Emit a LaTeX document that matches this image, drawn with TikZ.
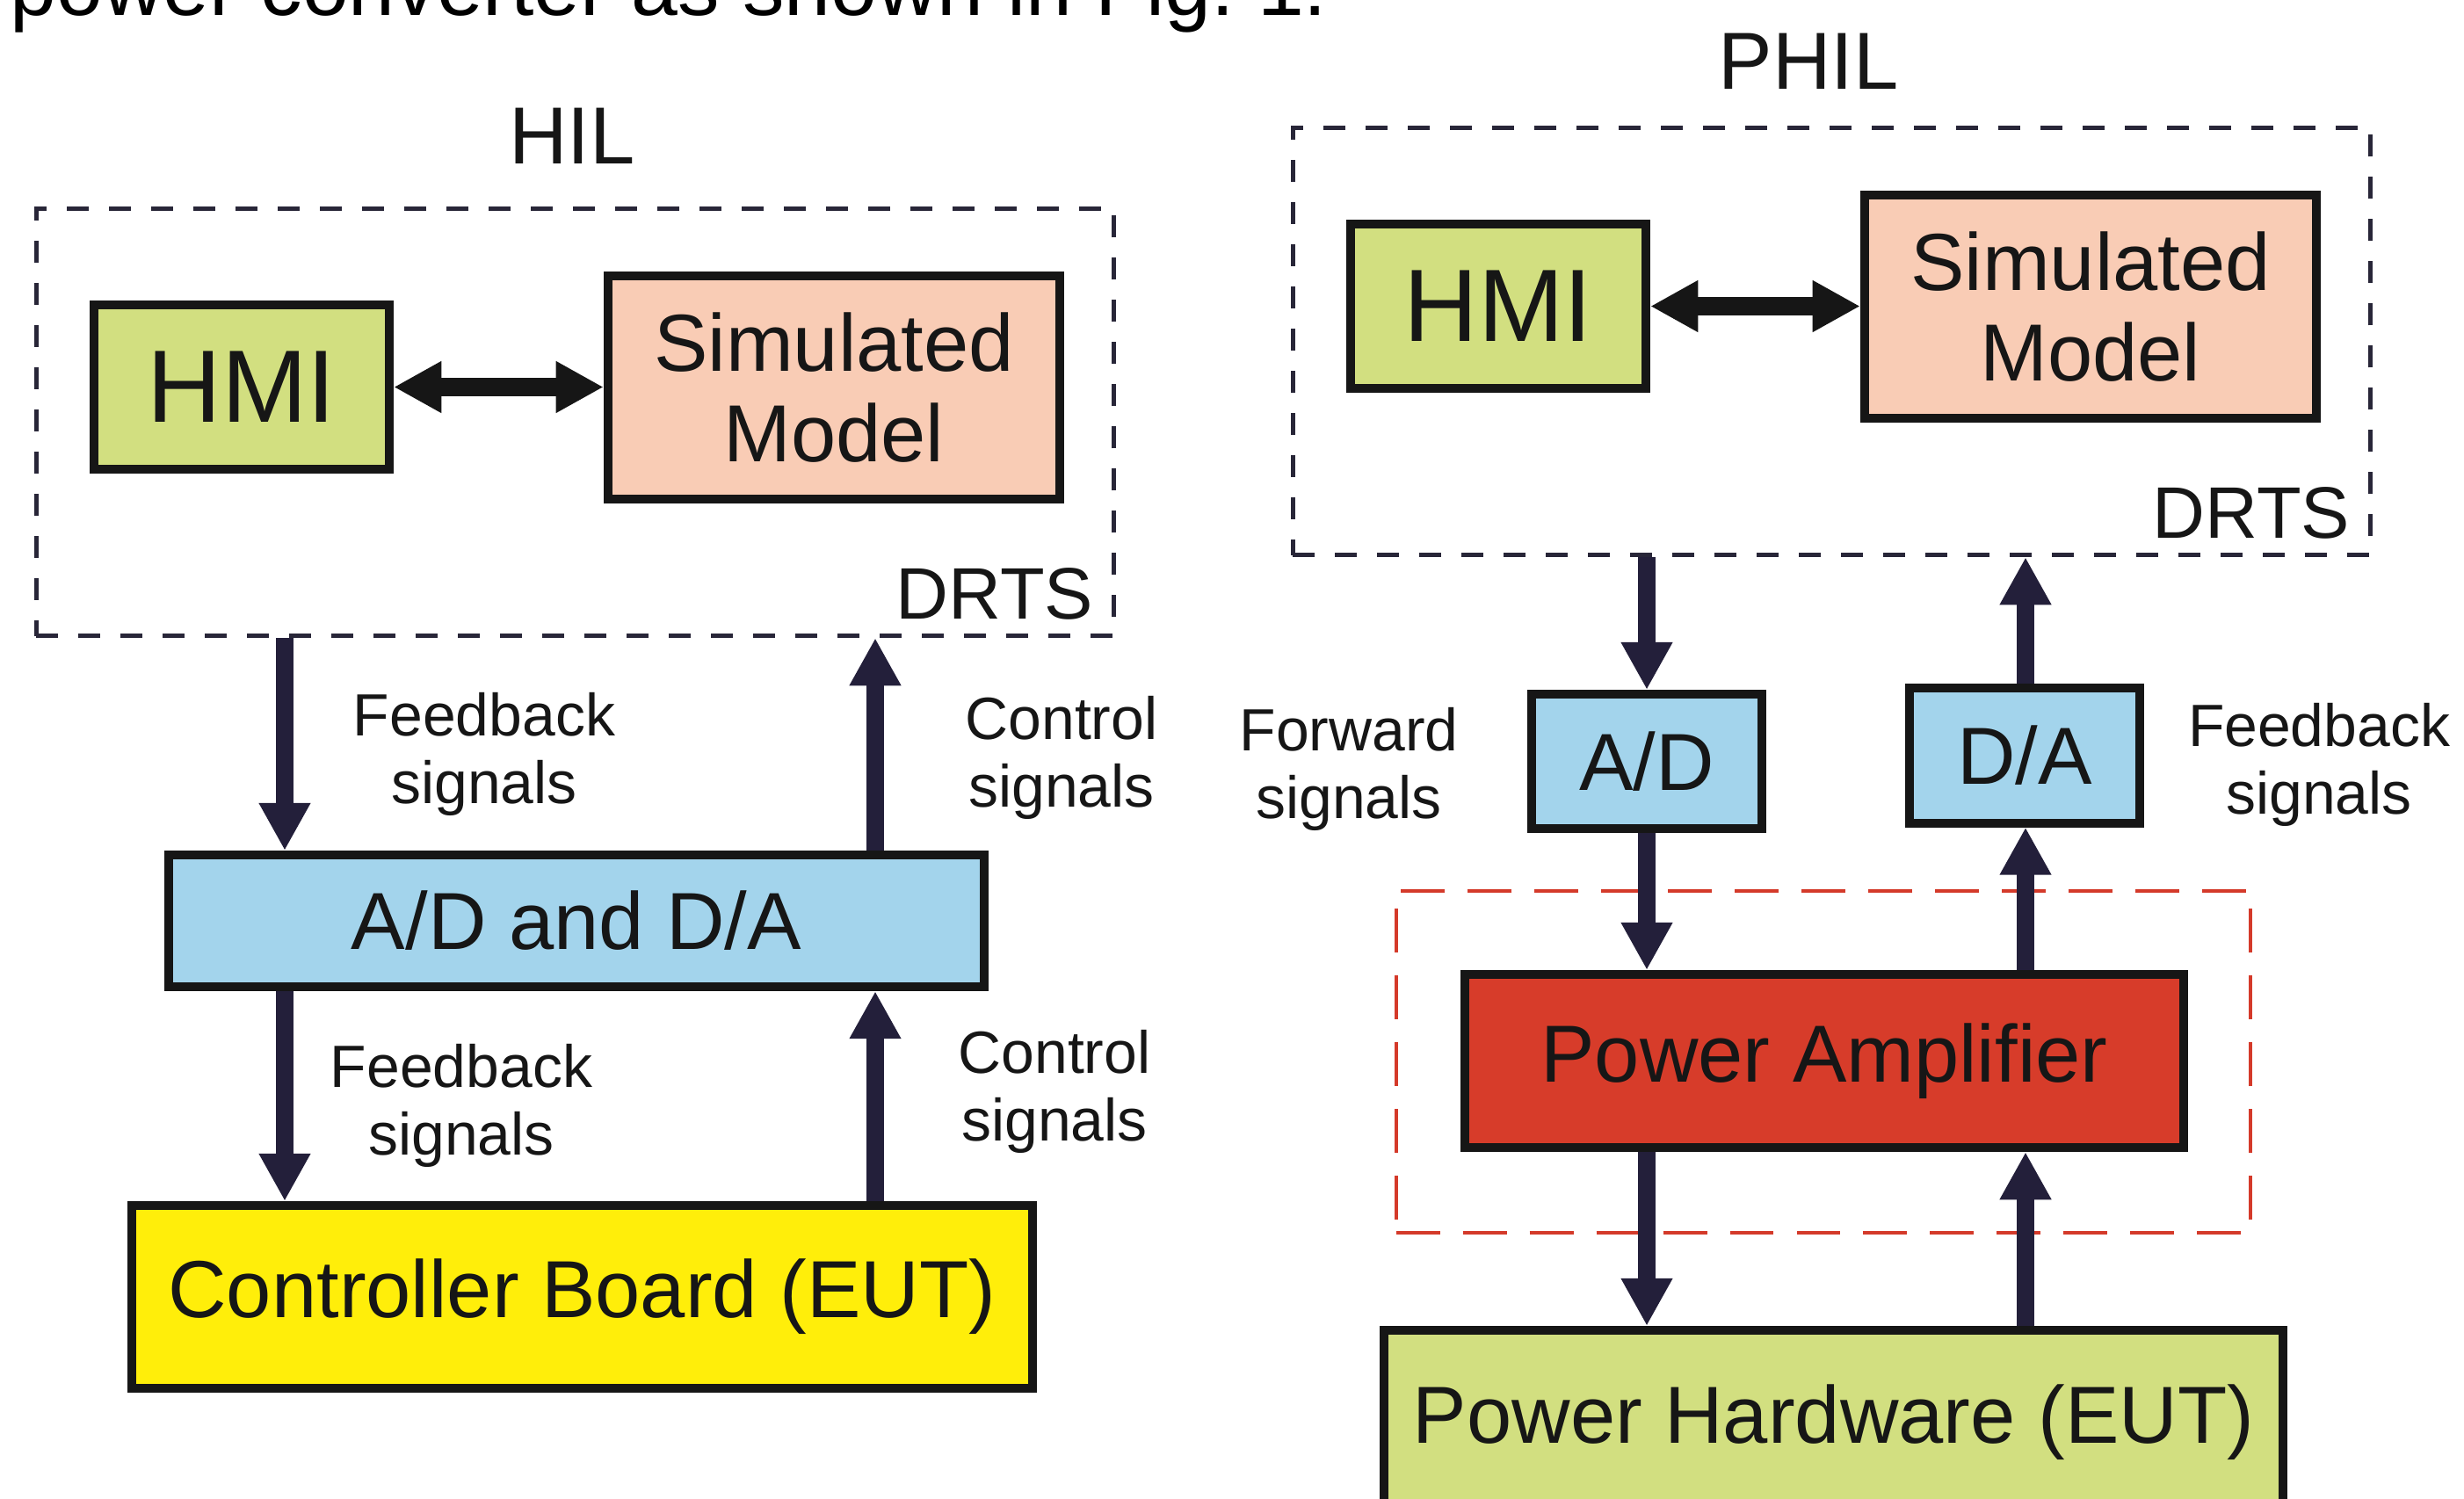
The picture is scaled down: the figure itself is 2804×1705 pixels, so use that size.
\documentclass[tikz,border=0pt]{standalone}
\usepackage{fontspec}
\setmainfont{Liberation Sans}
\usetikzlibrary{arrows.meta,calc}
\definecolor{hmigreen}{RGB}{210,223,128}
\definecolor{simpink}{RGB}{249,204,181}
\definecolor{adblue}{RGB}{163,212,236}
\definecolor{eutyellow}{RGB}{255,238,10}
\definecolor{ampred}{RGB}{215,60,42}
\definecolor{arrowc}{RGB}{35,31,58}
\definecolor{dashc}{RGB}{40,38,56}
\definecolor{reddashc}{RGB}{212,58,42}
\definecolor{edgec}{RGB}{22,22,22}
\definecolor{textc}{RGB}{22,22,22}
\newcommand\dgBoxFont{\fontsize{26.2}{29.3}\selectfont}
\newcommand\dgHmiFont{\fontsize{33.3}{36}\selectfont}
\newcommand\dgLblFont{\fontsize{19.3}{21.9}\selectfont}
\newcommand\dgTitleFont{\fontsize{26.2}{30}\selectfont}
\newcommand\dgDrtsFont{\fontsize{23.6}{26}\selectfont}
\newcommand\dgTopFont{\fontsize{27}{30}\selectfont}
\tikzset{
  blk/.style={draw=edgec, line width=2.85pt, inner sep=0pt, font=\dgBoxFont, align=center, text=textc},
  drtsbox/.style={draw=dashc, line width=1.42pt, dash pattern=on 7.1pt off 6.55pt, inner sep=0pt},
  ampframe/.style={draw=reddashc, line width=1.14pt, dash pattern=on 14.2pt off 7.4pt, inner sep=0pt},
  sig/.style={draw=arrowc, line width=5.69pt, -{Triangle[width=15.65pt,length=15.4pt]}},
  biarrow/.style={draw=edgec, line width=6pt, {Triangle[width=15.65pt,length=15.4pt]}-{Triangle[width=15.65pt,length=15.4pt]}},
  lbl/.style={font=\dgLblFont, align=center, inner sep=0pt, anchor=north, text=textc},
  ttl/.style={font=\dgTitleFont, inner sep=0pt, anchor=base, text=textc},
  drtslbl/.style={font=\dgDrtsFont, inner sep=0pt, anchor=base east, text=textc}
}
\begin{document}
\begin{tikzpicture}[x=0.01cm,y=-0.01cm]
\useasboundingbox (0,0) rectangle (2804,1705);
\clip (0,0) rectangle (2804,1705);
\fill[white] (0,0) rectangle (2804,1705);

% cropped sentence at the top
\node[anchor=base west, inner sep=0pt, font=\dgTopFont, text=black] (intro) at (11,17) {power converter as shown in Fig.~1.};

% ---------------- HIL ----------------
\node[ttl] (hil) at (651,186) {HIL};
\node[drtsbox, minimum width=12.26cm, minimum height=4.86cm] (drtsL) at (654.5,480.5) {};
\node[blk, fill=hmigreen, font=\dgHmiFont, minimum width=3.36cm, minimum height=1.87cm] (hmiL) at (275,440.5) {HMI};
\node[blk, fill=simpink, minimum width=5.14cm, minimum height=2.54cm] (simL) at (949,441) {Simulated\\Model};
\draw[biarrow] (hmiL.east) -- (hmiL.east -| simL.west);
\node[drtslbl] (drtsLlbl) at (1245,704) {DRTS};

\node[blk, fill=adblue, minimum width=9.28cm, minimum height=1.50cm] (adda) at (656,1048) {A/D and D/A};
\node[blk, fill=eutyellow, minimum width=10.25cm, minimum height=2.08cm] (ctrl) at (662.5,1476) {Controller Board (EUT)};

\coordinate (xl1) at (324,0);
\coordinate (xl2) at (996,0);
\draw[sig] (drtsL.south -| xl1) -- (adda.north -| xl1);
\draw[sig] (adda.north -| xl2) -- (drtsL.south -| xl2);
\draw[sig] (adda.south -| xl1) -- (ctrl.north -| xl1);
\draw[sig] (ctrl.north -| xl2) -- (adda.south -| xl2);

\node[lbl] (fb1) at (551,788) {Feedback\\signals};
\node[lbl] (cs1) at (1208,792) {Control\\signals};
\node[lbl] (fb2) at (525,1188) {Feedback\\signals};
\node[lbl] (cs2) at (1200,1172) {Control\\signals};

% ---------------- PHIL ----------------
\node[ttl] (phil) at (2058,101) {PHIL};
\node[drtsbox, minimum width=12.26cm, minimum height=4.86cm] (drtsR) at (2084.5,388.5) {};
\node[blk, fill=hmigreen, font=\dgHmiFont, minimum width=3.36cm, minimum height=1.87cm] (hmiR) at (1705,348.5) {HMI};
\node[blk, fill=simpink, minimum width=5.14cm, minimum height=2.54cm] (simR) at (2379,349) {Simulated\\Model};
\draw[biarrow] (hmiR.east) -- (hmiR.east -| simR.west);
\node[drtslbl] (drtsRlbl) at (2675,612) {DRTS};

\node[blk, fill=adblue, minimum width=2.62cm, minimum height=1.53cm] (ad) at (1874,866.5) {A/D};
\node[blk, fill=adblue, minimum width=2.62cm, minimum height=1.53cm] (da) at (2304,860) {D/A};
\node[ampframe, minimum width=9.72cm, minimum height=3.89cm] (paframe) at (2075,1208.5) {};
\node[blk, fill=ampred, minimum width=8.18cm, minimum height=1.97cm] (pa) at (2076,1207.5) {Power Amplifier};
\node[blk, fill=hmigreen, minimum width=10.23cm, minimum height=2.10cm] (ph) at (2086.5,1619) {Power Hardware (EUT)};

\coordinate (xr1) at (1874,0);
\coordinate (xr2) at (2305,0);
\draw[sig] (drtsR.south -| xr1) -- (ad.north -| xr1);
\draw[sig] (da.north -| xr2) -- (drtsR.south -| xr2);
\draw[sig] (ad.south -| xr1) -- (pa.north -| xr1);
\draw[sig] (pa.north -| xr2) -- (da.south -| xr2);
\draw[sig] (pa.south -| xr1) -- (ph.north -| xr1);
\draw[sig] (ph.north -| xr2) -- (pa.south -| xr2);

\node[lbl] (fwd) at (1535,805) {Forward\\signals};
\node[lbl] (fbR) at (2639,800) {Feedback\\signals};
\end{tikzpicture}
\end{document}
